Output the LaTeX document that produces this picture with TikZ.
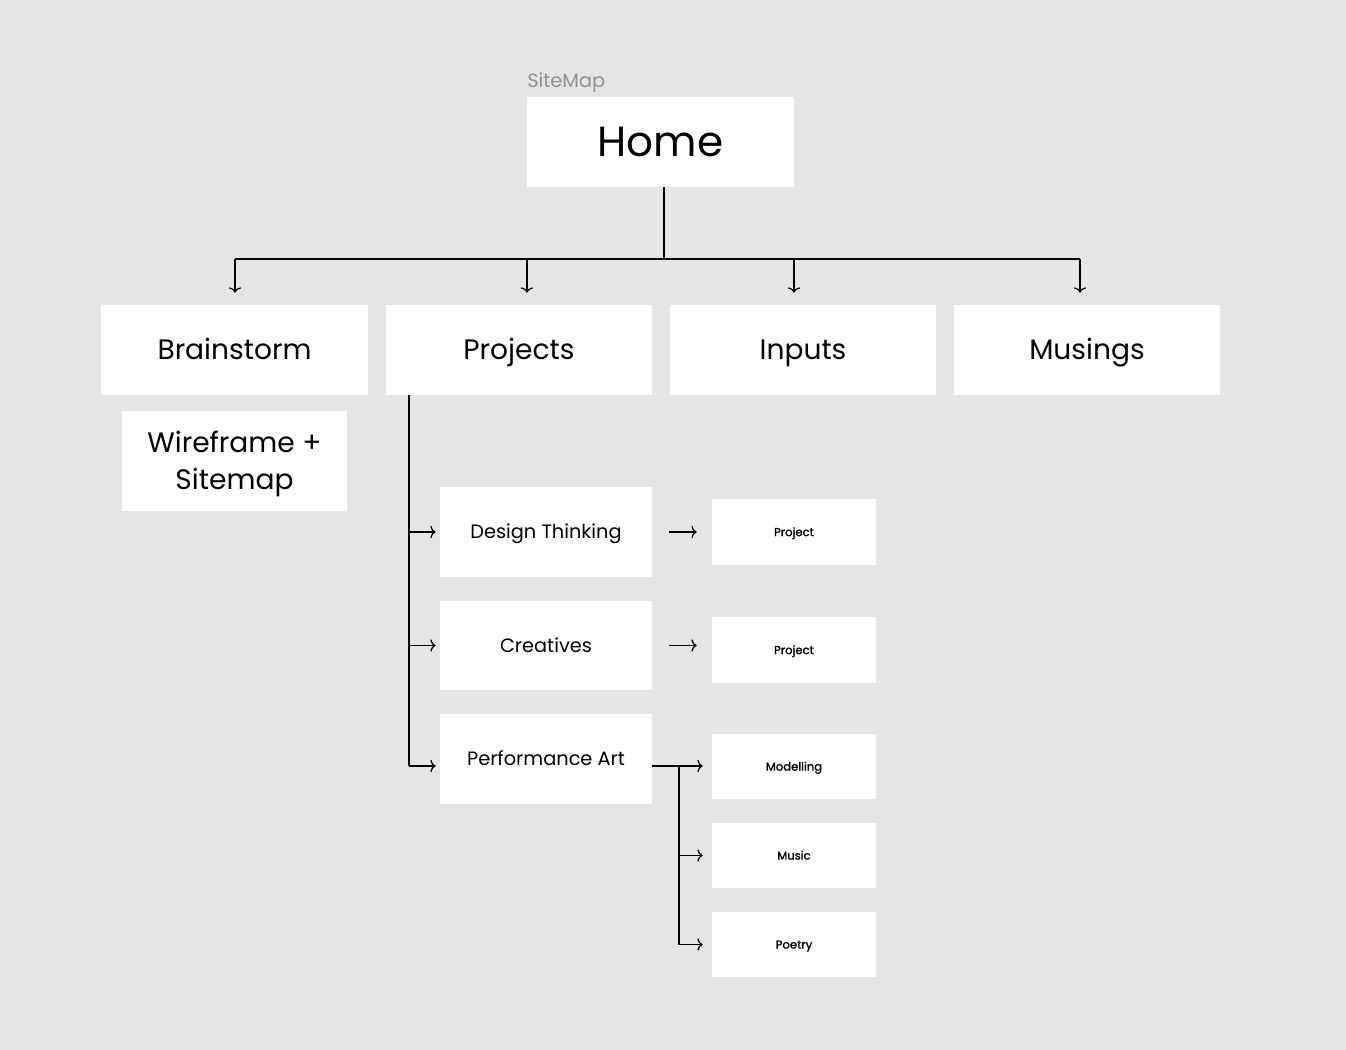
\documentclass[tikz,border=0pt]{standalone}
\usepackage{fontspec}
\setmainfont{Poppins}
\newfontfamily\leaffont[FakeBold=1.2]{Poppins}
\usepackage{tikz}
\usetikzlibrary{positioning, arrows.meta}
\definecolor{canvas}{RGB}{229,229,229}
\definecolor{labelgray}{RGB}{145,145,145}

\tikzset{
	page/.style={x=0.02cm, y=-0.02cm},
	box/.style={fill=white, inner sep=0pt, align=center},
	oneline/.style={text height=#1, text depth=0pt},
	bigbox/.style={box, oneline=11.3pt, minimum width=5.34cm, minimum height=1.8cm, font=\fontsize{16}{19}\selectfont},
	midbox/.style={box, oneline=7.8pt, minimum width=4.24cm, minimum height=1.8cm, font=\fontsize{11}{13}\selectfont},
	leafbox/.style={box, oneline=4.7pt, minimum width=3.28cm, minimum height=1.32cm, font=\leaffont\fontsize{6.6}{8}\selectfont},
	link/.style={line width=0.7pt, black},
	>={To[length=3pt,width=7pt]}
}

\begin{document}
\begin{tikzpicture}[page]
	\fill[canvas] (0,0) rectangle (1346,1050);
	\useasboundingbox (0,0) rectangle (1346,1050);

	% top
	\node[anchor=base west, text=labelgray, font=\fontsize{11}{13}\selectfont, inner sep=0pt] (title) at (527,88) {SiteMap};
	\node[box, oneline=17pt, minimum width=5.34cm, minimum height=1.8cm, font=\fontsize{24}{28}\selectfont] (home) at (660.5,142) {Home};

	% first level
	\node[bigbox] (brain) at (234.5,350) {Brainstorm};
	\node[bigbox] (proj) at (519,350) {Projects};
	\node[bigbox] (inp) at (803,350) {Inputs};
	\node[bigbox] (mus) at (1087,350) {Musings};
	\node[box, oneline=32.3pt, minimum width=4.5cm, minimum height=2cm, font=\fontsize{16}{21}\selectfont] (wire) at (234.5,461) {Wireframe +\\Sitemap};

	% projects
	\node[midbox] (dt) at (546,532) {Design Thinking};
	\node[midbox] (cr) at (546,645.5) {Creatives};
	\node[midbox] (pa) at (546,759) {Performance Art};

	\node[leafbox] (p1) at (794,532) {Project};
	\node[leafbox] (p2) at (794,650) {Project};
	\node[leafbox] (mod) at (794,766.5) {Modelling};
	\node[leafbox] (msc) at (794,855.5) {Music};
	\node[leafbox] (poe) at (794,944.5) {Poetry};

	% home bus
	\coordinate (hub) at (664,259);
	\coordinate (b1) at (235,259);
	\coordinate (b2) at (527,259);
	\coordinate (b3) at (794,259);
	\coordinate (b4) at (1080,259);
	\draw[link] (home.south -| hub) -- (hub);
	\draw[link] (b1) -- (b4);
	\foreach \b/\t in {b1/brain, b2/proj, b3/inp, b4/mus}
		\draw[link, ->, shorten >=0.24cm] (\b) -- (\b |- \t.north);

	% projects tree
	\coordinate (pr) at (409,395);
	\coordinate (pa out) at (652,766);
	\draw[link] (pr) -- (pr |- pa out);
	\draw[link, ->, shorten >=0.08cm] (pr |- dt.west) -- (dt.west);
	\draw[link, ->, shorten >=0.08cm] (pr |- cr.west) -- (cr.west);
	\draw[link, ->, shorten >=0.08cm] (pr |- pa out) -- (pa out -| pa.west);

	\draw[link, ->, shorten <=0.34cm, shorten >=0.3cm] (dt.east) -- (dt.east -| p1.west);
	\draw[link, ->, shorten <=0.34cm, shorten >=0.3cm] (cr.east) -- (cr.east -| p2.west);

	% performance art
	\coordinate (pa hub) at (679,766);
	\draw[link, ->, shorten >=0.18cm] (pa out) -- (pa out -| mod.west);
	\draw[link] (pa hub) -- (pa hub |- poe.west);
	\draw[link, ->, shorten >=0.18cm] (pa hub |- msc.west) -- (msc.west);
	\draw[link, ->, shorten >=0.18cm] (pa hub |- poe.west) -- (poe.west);
\end{tikzpicture}
\end{document}
